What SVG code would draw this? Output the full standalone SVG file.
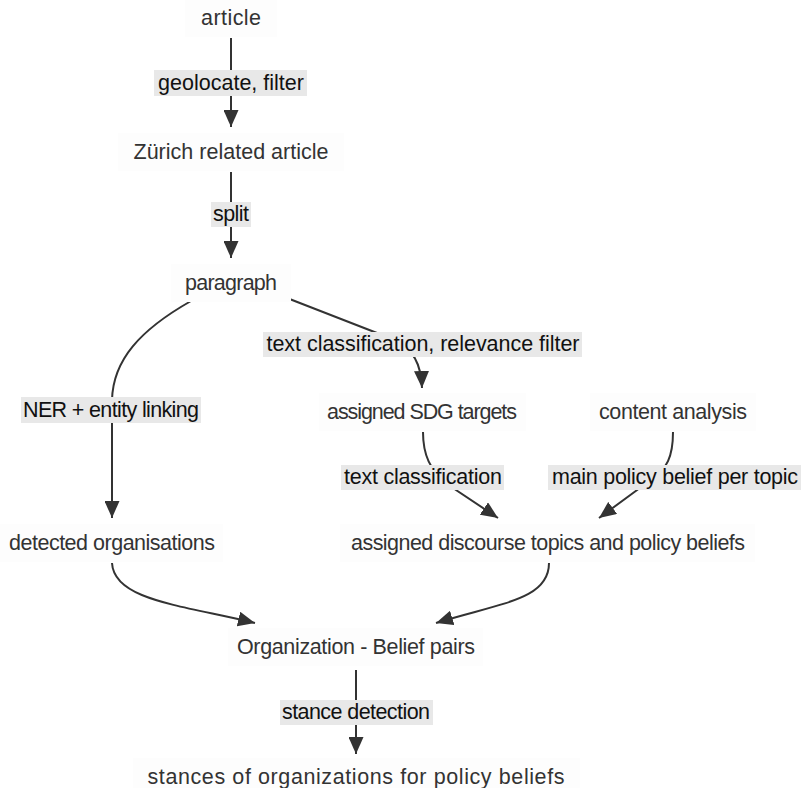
<svg xmlns="http://www.w3.org/2000/svg" width="801" height="788" viewBox="0 0 801 788">
  <defs>
    <marker id="arrow" viewBox="0 0 17 15" refX="17" refY="7.5" markerWidth="17" markerHeight="15" markerUnits="userSpaceOnUse" orient="auto">
      <path d="M0,0 L17,7.5 L0,15 z" fill="#333"/>
    </marker>
    <style>
      .node rect { fill: #fdfdfd; stroke: none; }
      .node text { font-family: "Liberation Sans", Arial, sans-serif; font-size: 21.5px; fill: #333; text-anchor: middle; }
      .edge { fill: none; stroke: #333; stroke-width: 2; marker-end: url(#arrow); }
      .elabel rect { fill: #e8e8e8; stroke: none; }
      .elabel text { font-family: "Liberation Sans", Arial, sans-serif; font-size: 21.5px; fill: #111; text-anchor: middle; }
    </style>
  </defs>
  <rect width="801" height="788" fill="#ffffff"/>

  <!-- connectors -->
  <g id="connectors">
    <path class="edge" d="M231,38 L231,127"/>
    <path class="edge" d="M231,172 L231,258"/>
    <path class="edge" d="M191,301 C140,330 113,360 112,400 L112,518"/>
    <path class="edge" d="M287,298 L395,340 Q421,352 422,388"/>
    <path class="edge" d="M423,432 C423,455 430,470 447,484 L498,518"/>
    <path class="edge" d="M673,432 C673,455 668,470 648,482 L599,518"/>
    <path class="edge" d="M112,563 C114,600 180,605 255,623"/>
    <path class="edge" d="M549,563 C549,600 500,603 436,623"/>
    <path class="edge" d="M356,670 L356,754"/>
  </g>

  <!-- edge labels -->
  <g id="edge-labels">
    <g class="elabel"><rect x="154" y="70" width="153" height="26"/><text x="231" y="90" textLength="146">geolocate, filter</text></g>
    <g class="elabel"><rect x="211" y="202" width="40" height="25"/><text x="231" y="221" textLength="36">split</text></g>
    <g class="elabel"><rect x="263" y="332" width="319" height="25"/><text x="423" y="351" textLength="313">text classification, relevance filter</text></g>
    <g class="elabel"><rect x="21" y="397" width="180" height="26"/><text x="111" y="417" textLength="176">NER + entity linking</text></g>
    <g class="elabel"><rect x="341" y="465" width="163" height="25"/><text x="423" y="484" textLength="158">text classification</text></g>
    <g class="elabel"><rect x="548" y="465" width="253" height="25"/><text x="675" y="484" textLength="246">main policy belief per topic</text></g>
    <g class="elabel"><rect x="280" y="700" width="153" height="25"/><text x="356" y="719" textLength="148">stance detection</text></g>
  </g>

  <!-- nodes -->
  <g id="article" class="node"><rect x="185" y="0" width="92" height="37"/><text x="231" y="25" textLength="60">article</text></g>
  <g id="zurich-article" class="node"><rect x="118" y="133" width="226" height="38"/><text x="231" y="159" textLength="195">Zürich related article</text></g>
  <g id="paragraph" class="node"><rect x="171" y="264" width="120" height="38"/><text x="231" y="290" textLength="92">paragraph</text></g>
  <g id="sdg-targets" class="node"><rect x="319" y="393" width="207" height="38"/><text x="422" y="419" textLength="190">assigned SDG targets</text></g>
  <g id="content-analysis" class="node"><rect x="590" y="393" width="166" height="38"/><text x="673" y="419" textLength="148">content analysis</text></g>
  <g id="detected-orgs" class="node"><rect x="0" y="524" width="223" height="38"/><text x="112" y="550" textLength="206">detected organisations</text></g>
  <g id="topics-beliefs" class="node"><rect x="340" y="524" width="415" height="38"/><text x="548" y="550" textLength="394">assigned discourse topics and policy beliefs</text></g>
  <g id="org-belief-pairs" class="node"><rect x="228" y="628" width="255" height="38"/><text x="356" y="654" textLength="238">Organization - Belief pairs</text></g>
  <g id="stances" class="node"><rect x="133" y="758" width="447" height="38"/><text x="356" y="784" textLength="417">stances of organizations for policy beliefs</text></g>
</svg>
